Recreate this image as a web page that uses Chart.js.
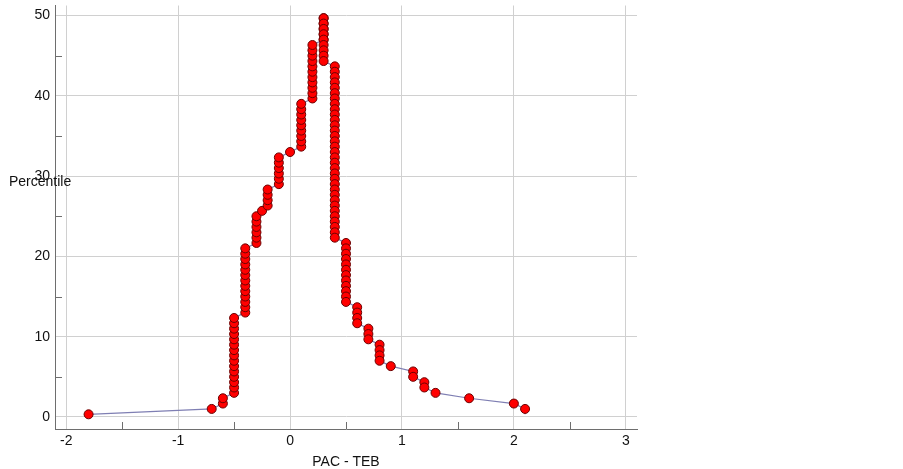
<!DOCTYPE html>
<html>
<head>
<meta charset="utf-8">
<title>Mountain plot PAC - TEB</title>
<script src="https://cdn.jsdelivr.net/npm/chart.js@4"></script>
<style>
    html, body { margin: 0; padding: 0; background: #ffffff; }
    #wrap { width: 903px; height: 469px; }
</style>
</head>
<body>
<div id="wrap"><canvas id="mountainChart" width="903" height="469"></canvas></div>
<script>
// ======= Datos: diferencia PAC - TEB y percentil plegado (mountain plot) =======
const pacTeb = [
    -1.8,
    -0.7,
    -0.6, -0.6,
    -0.5, -0.5, -0.5, -0.5, -0.5, -0.5, -0.5, -0.5, -0.5, -0.5, -0.5, -0.5, -0.5, -0.5, -0.5,
    -0.4, -0.4, -0.4, -0.4, -0.4, -0.4, -0.4, -0.4, -0.4, -0.4, -0.4, -0.4, -0.4,
    -0.3, -0.3, -0.3, -0.3, -0.3, -0.3,
    -0.25,
    -0.2, -0.2, -0.2, -0.2,
    -0.1, -0.1, -0.1, -0.1, -0.1, -0.1,
    0,
    0.1, 0.1, 0.1, 0.1, 0.1, 0.1, 0.1, 0.1, 0.1,
    0.2, 0.2, 0.2, 0.2, 0.2, 0.2, 0.2, 0.2, 0.2, 0.2, 0.2,
    0.3, 0.3, 0.3, 0.3, 0.3, 0.3, 0.3, 0.3, 0.3, 0.3, 0.3, 0.3, 0.3, 0.3,
    0.4, 0.4, 0.4, 0.4, 0.4, 0.4, 0.4, 0.4, 0.4, 0.4, 0.4, 0.4, 0.4, 0.4, 0.4, 0.4, 0.4,
    0.4, 0.4, 0.4, 0.4, 0.4, 0.4, 0.4, 0.4, 0.4, 0.4, 0.4, 0.4, 0.4, 0.4, 0.4, 0.4,
    0.5, 0.5, 0.5, 0.5, 0.5, 0.5, 0.5, 0.5, 0.5, 0.5, 0.5, 0.5,
    0.6, 0.6, 0.6, 0.6,
    0.7, 0.7, 0.7,
    0.8, 0.8, 0.8, 0.8,
    0.9,
    1.1, 1.1,
    1.2, 1.2,
    1.3,
    1.6,
    2.0,
    2.1, 2.1
];

const percentile = [
    0.33,
    1.00,
    1.67, 2.33,
    3.00, 3.67, 4.33, 5.00, 5.67, 6.33, 7.00, 7.67, 8.33, 9.00, 9.67, 10.33, 11.00, 11.67, 12.33,
    13.00, 13.67, 14.33, 15.00, 15.67, 16.33, 17.00, 17.67, 18.33, 19.00, 19.67, 20.33, 21.00,
    21.67, 22.33, 23.00, 23.67, 24.33, 25.00,
    25.67,
    26.33, 27.00, 27.67, 28.33,
    29.00, 29.67, 30.33, 31.00, 31.67, 32.33,
    33.00,
    33.67, 34.33, 35.00, 35.67, 36.33, 37.00, 37.67, 38.33, 39.00,
    39.67, 40.33, 41.00, 41.67, 42.33, 43.00, 43.67, 44.33, 45.00, 45.67, 46.33,
    47.00, 47.67, 48.33, 49.00, 49.67, 49.67, 49.00, 48.33, 47.67, 47.00, 46.33, 45.67, 45.00, 44.33,
    43.67, 43.00, 42.33, 41.67, 41.00, 40.33, 39.67, 39.00, 38.33, 37.67, 37.00, 36.33, 35.67, 35.00, 34.33, 33.67, 33.00,
    32.33, 31.67, 31.00, 30.33, 29.67, 29.00, 28.33, 27.67, 27.00, 26.33, 25.67, 25.00, 24.33, 23.67, 23.00, 22.33,
    21.67, 21.00, 20.33, 19.67, 19.00, 18.33, 17.67, 17.00, 16.33, 15.67, 15.00, 14.33,
    13.67, 13.00, 12.33, 11.67,
    11.00, 10.33, 9.67,
    9.00, 8.33, 7.67, 7.00,
    6.33,
    5.67, 5.00,
    4.33, 3.67,
    3.00,
    2.33,
    1.67,
    1.00, 0.33
];

// ======= Marcas de los ejes =======
const xTicks = [-2, -1, 0, 1, 2, 3];
const xMinorTicks = [-1.5, -0.5, 0.5, 1.5, 2.5];
const yTicks = [0, 10, 20, 30, 40, 50];
const yMinorTicks = [5, 15, 25, 35, 45];

const fuente = '"Liberation Sans", Arial, sans-serif';

// el ultimo punto no lleva marcador en el original
const radios = percentile.map((p, i) => i === percentile.length - 1 ? 0 : 4.5);

// marcas menores hacia dentro + titulo horizontal del eje Y
const extrasPlugin = {
    id: 'extras',
    beforeDatasetsDraw(chart) {
        const { ctx, chartArea, scales } = chart;
        ctx.save();
        ctx.strokeStyle = '#6e6e6e';
        ctx.lineWidth = 1;
        ctx.beginPath();
        xMinorTicks.forEach(v => {
            const px = Math.round(scales.x.getPixelForValue(v)) + 0.5;
            ctx.moveTo(px, chartArea.bottom);
            ctx.lineTo(px, chartArea.bottom - 7);
        });
        yMinorTicks.forEach(v => {
            const py = Math.round(scales.y.getPixelForValue(v)) + 0.5;
            ctx.moveTo(chartArea.left, py);
            ctx.lineTo(chartArea.left + 7, py);
        });
        ctx.stroke();
        ctx.restore();
    },
    afterDraw(chart) {
        const { ctx } = chart;
        ctx.save();
        ctx.font = '14px ' + fuente;
        ctx.fillStyle = '#111111';
        ctx.textAlign = 'left';
        ctx.textBaseline = 'middle';
        ctx.fillText('Percentile', 9, 182);
        ctx.restore();
    }
};

const ctx = document.getElementById('mountainChart').getContext('2d');
const chart = new Chart(ctx, {
    type: 'scatter',
    data: {
        datasets: [{
            label: 'PAC - TEB',
            data: pacTeb.map((x, i) => ({ x: x, y: percentile[i] })),
            showLine: true,
            borderColor: '#7f7fb3',
            borderWidth: 1.2,
            pointRadius: radios,
            pointHoverRadius: radios,
            pointBackgroundColor: '#ff0000',
            pointBorderColor: '#6a0000',
            pointBorderWidth: 1
        }]
    },
    options: {
        responsive: false,
        animation: false,
        events: [],
        layout: {
            padding: { top: 5, right: 266, bottom: 0, left: 0 }
        },
        plugins: {
            legend: { display: false },
            tooltip: { enabled: false }
        },
        scales: {
            x: {
                type: 'linear',
                min: -2.1,
                max: 3.1,
                afterBuildTicks: scale => { scale.ticks = xTicks.map(v => ({ value: v })); },
                afterFit: scale => {
                    scale.height = 40;
                    scale.paddingLeft = 0;
                    scale.paddingRight = 0;
                },
                ticks: {
                    color: '#111111',
                    padding: 4,
                    font: { family: fuente, size: 14 },
                    callback: v => String(v)
                },
                grid: {
                    color: '#d0d0d0',
                    lineWidth: 1,
                    drawTicks: false
                },
                border: { display: true, color: '#6e6e6e', width: 1 },
                title: {
                    display: true,
                    text: 'PAC - TEB',
                    color: '#111111',
                    font: { family: fuente, size: 14 },
                    padding: { top: 0, bottom: -1.5 }
                }
            },
            y: {
                type: 'linear',
                min: -1.5,
                max: 51.25,
                afterBuildTicks: scale => { scale.ticks = yTicks.map(v => ({ value: v })); },
                afterFit: scale => {
                    scale.width = 55;
                    scale.paddingTop = 0;
                    scale.paddingBottom = 0;
                },
                ticks: {
                    color: '#111111',
                    padding: 5,
                    font: { family: fuente, size: 14 },
                    callback: v => String(v)
                },
                grid: {
                    color: '#d0d0d0',
                    lineWidth: 1,
                    drawTicks: false
                },
                border: { display: true, color: '#6e6e6e', width: 1 }
            }
        }
    },
    plugins: [extrasPlugin]
});
</script>
</body>
</html>
